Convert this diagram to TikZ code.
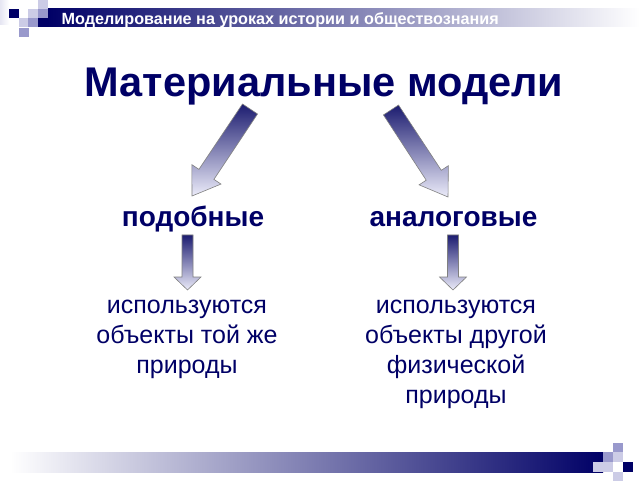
\documentclass[tikz,border=0pt]{standalone}
\usepackage{fontspec}
\setmainfont{Liberation Sans}
\usetikzlibrary{calc}
\definecolor{dk}{RGB}{0,0,102}
\definecolor{md}{RGB}{153,153,204}
\definecolor{lt}{RGB}{204,204,230}
\definecolor{arrtop}{RGB}{28,28,112}
\definecolor{arrbot}{RGB}{236,236,250}
\tikzset{>=stealth}
\newcommand{\fatarrow}[5]{%
  \coordinate (neck) at ($(#2)!#5!(#1)$);
  \path[fatarr] ($(#1)!#3!90:(#2)$) -- ($(neck)!#3!90:(#2)$)
    -- ($(neck)!#4!90:(#2)$) -- (#2) -- ($(neck)!#4!-90:(#2)$)
    -- ($(neck)!#3!-90:(#2)$) -- ($(#1)!#3!-90:(#2)$) -- cycle;}

\begin{document}
\begin{tikzpicture}[x=1pt,y=1pt,
    fatarr/.style={draw=gray,line width=0.6pt,top color=arrtop,bottom color=arrbot},
    sq/.style={fill=#1},
    head/.style={font=\fontsize{28}{32}\selectfont\bfseries,text=dk,inner sep=0pt,anchor=base},
    txt/.style={font=\fontsize{25}{30}\selectfont,text=dk,align=center,inner sep=0pt,anchor=north}]
    \useasboundingbox (0,0) rectangle (640,480);
    \fill[white] (0,0) rectangle (640,480);
    \shade[left color=lt!50,right color=white] (0,480) rectangle (9,455);
    \shade[left color=dk,right color=white] (47,453) rectangle (640,471);
    \shade[left color=white,right color=dk] (10,8) rectangle (603,28);
    \foreach \x/\y/\c in {9/9/dk,28/9/lt,38/9/md,38/0/lt,19/18/lt,28/18/md,38/18/dk,19/28/md}
      \fill[sq=\c] (\x,480-\y) rectangle ++(9.5,-9.5);
    \foreach \x/\y/\c in {613/443/md,603/452/md,613/452/lt,593/462/lt,603/462/lt,623/462/dk,613/472/lt}
      \fill[sq=\c] (\x,480-\y) rectangle ++(9.5,-9.5);
    \node[anchor=base west,inner sep=0pt,text=white,font=\fontsize{16.2}{19}\selectfont\bfseries] (top) at (61.5,455.5)
      {Моделирование на уроках истории и обществознания};
    \node[anchor=base,inner sep=0pt,text=dk,font=\fontsize{41.5}{48}\selectfont\bfseries] (title) at (324,383)
      {Материальные модели};
    \node[head] (podob) at (193,253) {подобные};
    \node[head] (analog) at (453.5,253) {аналоговые};
    \node[txt] (podobtxt) at (187,180) {используются\\объекты той же\\природы};
    \node[txt] (analogtxt) at (456,180) {используются\\объекты другой\\физической\\природы};
    \coordinate (tl) at (250,371);
    \coordinate (tr) at (391,370);
    \coordinate (hl) at (192,284);
    \coordinate (hr) at (448,283);
    \coordinate (sl) at (187.5,245);
    \coordinate (el) at (187.5,190);
    \coordinate (sr) at (453,245);
    \coordinate (er) at (453,190);
    \fatarrow{tl}{hl}{9pt}{17.5pt}{26pt}
    \fatarrow{tr}{hr}{9pt}{17.5pt}{26pt}
    \fatarrow{sl}{el}{5.5pt}{13.5pt}{13pt}
    \fatarrow{sr}{er}{5.5pt}{13.5pt}{13pt}
  \end{tikzpicture}
\end{document}
